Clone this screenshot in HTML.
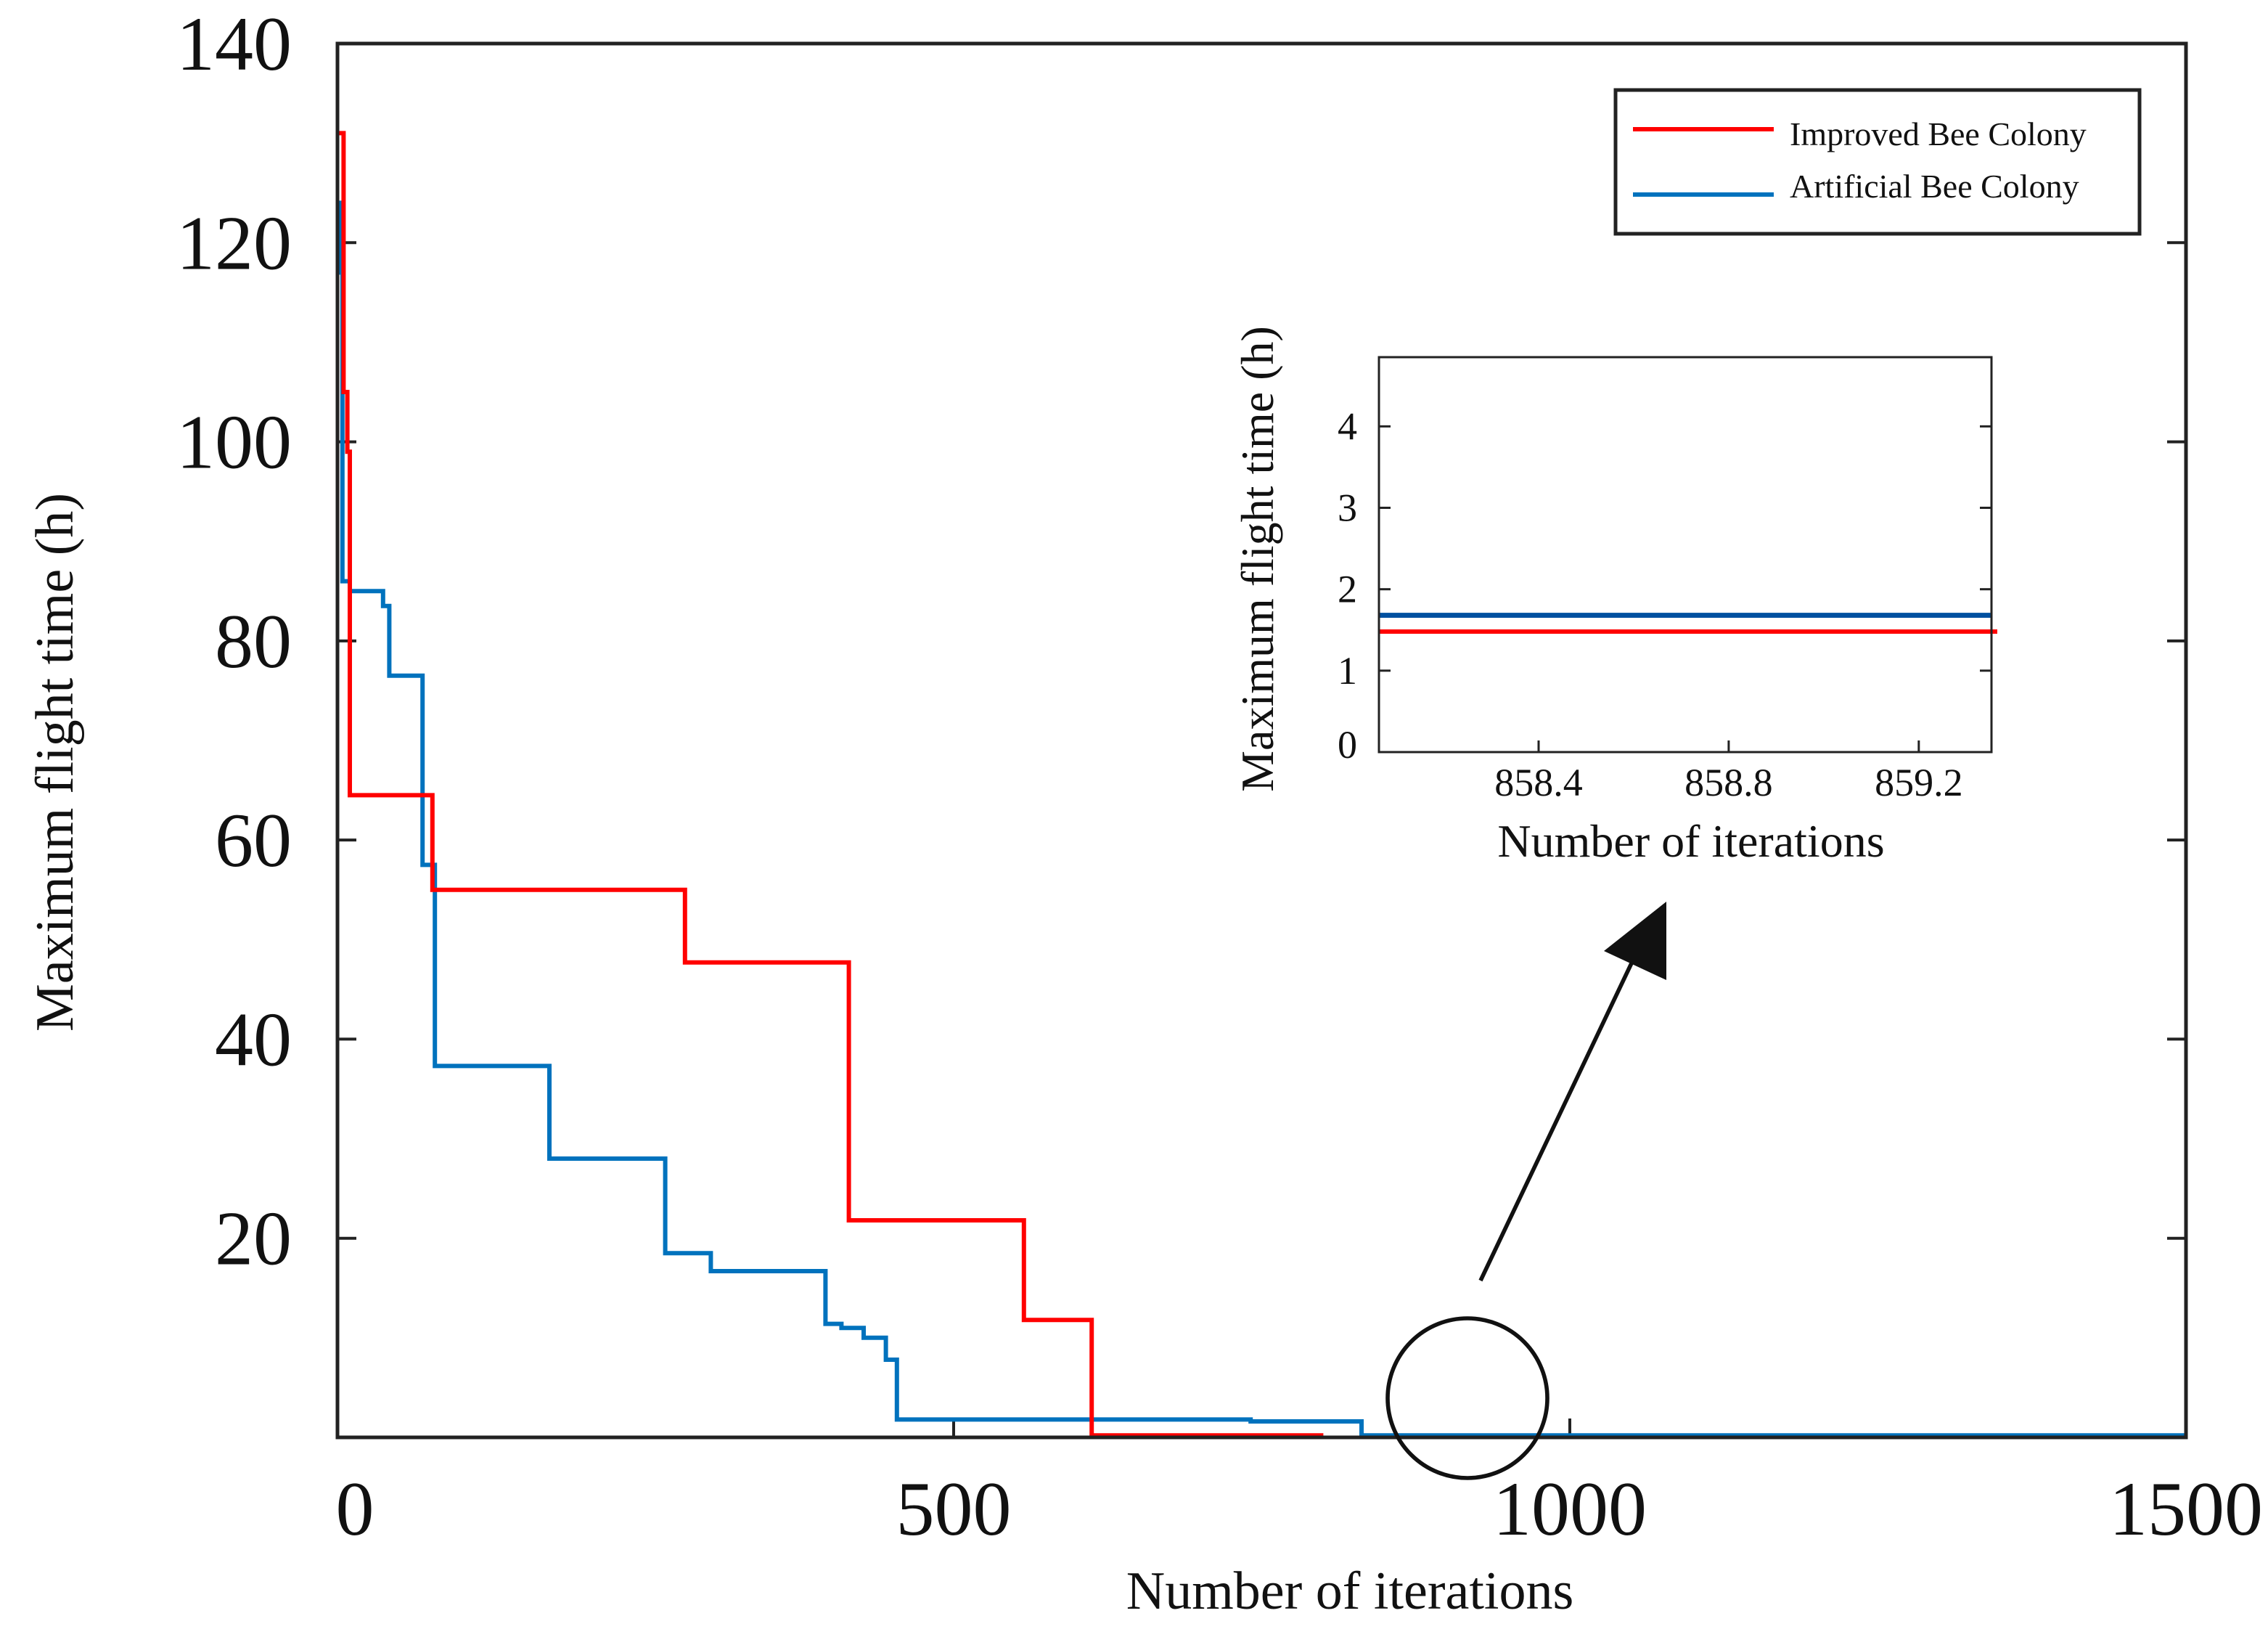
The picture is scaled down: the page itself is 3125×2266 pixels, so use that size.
<!DOCTYPE html>
<html><head><meta charset="utf-8"><style>
html,body{margin:0;padding:0;background:#fff}
svg{display:block}
text{font-family:"Liberation Serif",serif;fill:#111}
</style></head><body>
<svg id="chart" width="3125" height="2266" viewBox="0 0 1562.5 1133" xmlns="http://www.w3.org/2000/svg">
<g id="main"></g>
<g id="inset"></g>
</svg>
<script>
const xTicks=[0,500,1000,1500];
const yTicks=[20,40,60,80,100,120,140];
const redIter=[0,5,5,8,8,10,10,77,77,282,282,415,415,557,557,612,612,800];
const redVal=[131,131,105,105,99,99,64.5,64.5,55,55,47.7,47.7,21.8,21.8,11.8,11.8,0.2,0.2];
const blueIter=[0,3,3,4,4,10,10,37,37,42,42,69,69,79,79,172,172,266,266,303,303,396,396,409,409,427,427,445,445,454,454,741,741,831,831,1500];
const blueVal=[124,124,117,117,86,86,85,85,83.5,83.5,76.5,76.5,57.5,57.5,37.3,37.3,28,28,18.5,18.5,16.7,16.7,11.4,11.4,11,11,10,10,7.8,7.8,1.8,1.8,1.6,1.6,0.2,0.2];
const insetXTicks=[858.4,858.8,859.2];
const insetYTicks=[0,1,2,3,4];
const insetRed=1.48, insetBlue=1.68;

const NS='http://www.w3.org/2000/svg';
function mk(parent,tag,attrs,txt){const e=document.createElementNS(NS,tag);for(const k in attrs)e.setAttribute(k,attrs[k]);if(txt!==undefined)e.textContent=txt;parent.appendChild(e);return e;}
const main=document.getElementById('main');
const L=232.5,R=1506,T=30,B=990;
const xs=v=>L+(v-0)/1500*(R-L);
const ys=v=>B-v/140*(B-T);
let e;
xTicks.forEach(t=>{
 if(t>0&&t<1500){e=mk(main,'line',{x1:xs(t),x2:xs(t),y1:B,y2:B-13,stroke:'#222','stroke-width':2});
 }
 e=mk(main,'text',{x:xs(t)+(t===0?12:0),y:B+67,'font-size':53,'text-anchor':'middle'},t);
 
});
yTicks.forEach(t=>{
 if(t<140){[[L,L+13],[R,R-13]].forEach(p=>{e=mk(main,'line',{x1:p[0],x2:p[1],y1:ys(t),y2:ys(t),stroke:'#222','stroke-width':2});
 });}
 e=mk(main,'text',{x:201,y:ys(t)+18,'font-size':53,'text-anchor':'end'},t);
 
});
function series(it,vals,xf,yf,color,name,par){
 const d=it.map((v,i)=>(i?'L':'M')+xf(v).toFixed(1)+','+yf(vals[i]).toFixed(1)).join(' ');
 e=mk(par,'path',{d:d,fill:'none',stroke:color,'stroke-width':3});
 
}
series(blueIter,blueVal,xs,ys,'#0072BD','artificial-bee-colony-line',main);
series(redIter,redVal,xs,ys,'#ff0000','improved-bee-colony-line',main);
e=mk(main,'rect',{x:L,y:T,width:R-L,height:B-T,fill:'none',stroke:'#222','stroke-width':2.5});

e=mk(main,'text',{x:930,y:1108,'font-size':37,'text-anchor':'middle'},'Number of iterations');

e=mk(main,'text',{x:0,y:0,'font-size':37,'text-anchor':'middle',transform:'translate(50,525) rotate(-90)'},'Maximum flight time (h)');

const lg=mk(main,'g',{});

mk(lg,'rect',{x:1113,y:62,width:361,height:99,fill:'#fff',stroke:'#222','stroke-width':2.5});
mk(lg,'line',{x1:1125,x2:1222,y1:89,y2:89,stroke:'#ff0000','stroke-width':3});
e=mk(lg,'text',{x:1233,y:100,'font-size':23},'Improved Bee Colony');

mk(lg,'line',{x1:1125,x2:1222,y1:134,y2:134,stroke:'#0072BD','stroke-width':3});
e=mk(lg,'text',{x:1233,y:136,'font-size':23},'Artificial Bee Colony');

e=mk(main,'circle',{cx:1011,cy:963,r:55,fill:'none',stroke:'#111','stroke-width':2.8});

e=mk(main,'line',{x1:1020,y1:882,x2:1128,y2:655,stroke:'#111','stroke-width':2.8});

e=mk(main,'polygon',{points:'1148,621 1105,655 1148,675',fill:'#111'});

const ins=document.getElementById('inset');
const iL=950,iR=1372,iT=246,iB=518,ix0=858.064,ix1=859.353,iy1=4.85;
const ixs=v=>iL+(v-ix0)/(ix1-ix0)*(iR-iL);
const iys=v=>iB-v/iy1*(iB-iT);
insetXTicks.forEach(t=>{
 e=mk(ins,'line',{x1:ixs(t),x2:ixs(t),y1:iB,y2:iB-8,stroke:'#222','stroke-width':1.5});
 
 e=mk(ins,'text',{x:ixs(t),y:iB+30,'font-size':27,'text-anchor':'middle'},t.toFixed(1));
 
});
insetYTicks.forEach(t=>{
 [[iL,iL+8],[iR,iR-8]].forEach(p=>{e=mk(ins,'line',{x1:p[0],x2:p[1],y1:iys(t),y2:iys(t),stroke:'#222','stroke-width':1.5});
 });
 e=mk(ins,'text',{x:935,y:iys(t)+(t===0?4:9),'font-size':27,'text-anchor':'end'},t);
 
});
e=mk(ins,'line',{x1:iL,x2:iR,y1:iys(insetBlue),y2:iys(insetBlue),stroke:'#0050a0','stroke-width':3.4});

e=mk(ins,'line',{x1:iL,x2:iR+4,y1:iys(insetRed),y2:iys(insetRed),stroke:'#ff0000','stroke-width':3});

e=mk(ins,'rect',{x:iL,y:iT,width:iR-iL,height:iB-iT,fill:'none',stroke:'#222','stroke-width':1.5});

e=mk(ins,'text',{x:1165,y:590,'font-size':32,'text-anchor':'middle'},'Number of iterations');

e=mk(ins,'text',{x:0,y:0,'font-size':32,'text-anchor':'middle',transform:'translate(877,385) rotate(-90)'},'Maximum flight time (h)');

</script>
</body></html>
